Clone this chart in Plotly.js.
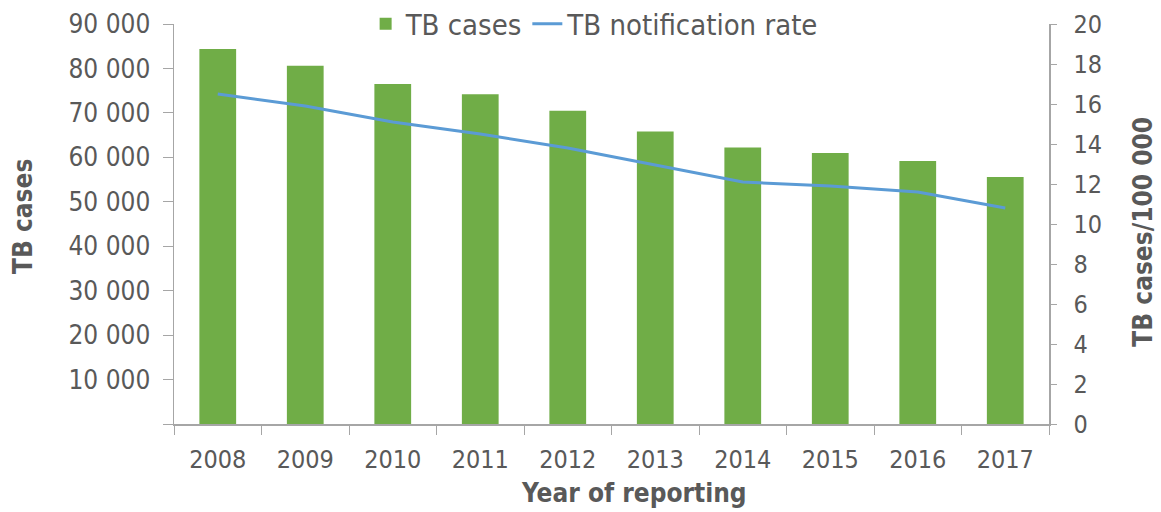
<!DOCTYPE html>
<html><head><meta charset="utf-8">
<script src="https://cdn.plot.ly/plotly-3.0.1.min.js"></script>
<style>html,body{margin:0;padding:0;background:#fff}#chart{width:1161px;height:512px}</style>
</head><body><div id="chart"></div>
<script>
var years = ['2008','2009','2010','2011','2012','2013','2014','2015','2016','2017'];
var tbCases = [84400, 80600, 76500, 74200, 70500, 65800, 62200, 61000, 59200, 55600];
var notificationRate = [16.5, 15.9, 15.1, 14.5, 13.8, 12.95, 12.1, 11.9, 11.6, 10.8];
var leftTickVals = [0, 10000, 20000, 30000, 40000, 50000, 60000, 70000, 80000, 90000];
var leftTickText = ['', '10 000', '20 000', '30 000', '40 000', '50 000', '60 000', '70 000', '80 000', '90 000'];

var FONT = '"DejaVu Sans Condensed", "DejaVu Sans", Verdana, sans-serif';
var GRAY = '#595959';
var AXIS = '#a6a6a6';

var traces = [
  {type:'bar', name:'TB cases', x:years, y:tbCases, marker:{color:'#70ad47'}, width:0.42, yaxis:'y'},
  {type:'scatter', mode:'lines', name:'TB notification rate', x:years, y:notificationRate,
   line:{color:'#5b9bd5', width:3}, yaxis:'y2'}
];

var layout = {
  width:1161, height:512,
  margin:{l:174, r:112, t:24, b:88, autoexpand:false},
  paper_bgcolor:'#fff', plot_bgcolor:'#fff',
  font:{family:FONT, size:25, color:GRAY},
  showlegend:true,
  legend:{orientation:'h', x:0.219, xanchor:'left', y:1.0, yanchor:'middle',
          font:{family:FONT, size:29, color:GRAY}, bgcolor:'rgba(0,0,0,0)', itemwidth:30, traceorder:'normal'},
  xaxis:{type:'category', showline:true, linecolor:AXIS, linewidth:1.5,
         ticks:'outside', tickson:'boundaries', ticklen:9, tickcolor:AXIS, ticklabelstandoff:12,
         showgrid:false, zeroline:false, tickfont:{family:FONT, size:25, color:GRAY}},
  yaxis:{range:[0,90000], tickvals:leftTickVals, ticktext:leftTickText, showline:true, linecolor:AXIS, linewidth:1.5,
         ticks:'outside', ticklen:10, tickcolor:AXIS, ticklabelstandoff:7, showgrid:false, zeroline:false,
         tickfont:{family:FONT, size:26, color:GRAY}},
  yaxis2:{range:[0,20], dtick:2, overlaying:'y', side:'right', showline:true, linecolor:AXIS, linewidth:1.5,
          ticks:'outside', ticklen:6, tickcolor:AXIS, ticklabelstandoff:12, showgrid:false, zeroline:false,
          tickfont:{family:FONT, size:25, color:GRAY}},
  annotations:[
    {text:'<b>TB cases</b>', xref:'paper', yref:'paper', x:-0.1726, y:0.52, textangle:-90, showarrow:false,
     xanchor:'center', yanchor:'middle', font:{family:FONT, size:26, color:GRAY}},
    {text:'<b>TB cases/100 000</b>', xref:'paper', yref:'paper', x:1.107, y:0.48, textangle:-90, showarrow:false,
     xanchor:'center', yanchor:'middle', font:{family:FONT, size:26, color:GRAY}},
    {text:'<b>Year of reporting</b>', xref:'paper', yref:'paper', x:0.526, y:-0.1725, showarrow:false,
     xanchor:'center', yanchor:'middle', font:{family:FONT, size:26, color:GRAY}}
  ]
};
Plotly.newPlot('chart', traces, layout, {displayModeBar:false, staticPlot:true});
</script></body></html>
